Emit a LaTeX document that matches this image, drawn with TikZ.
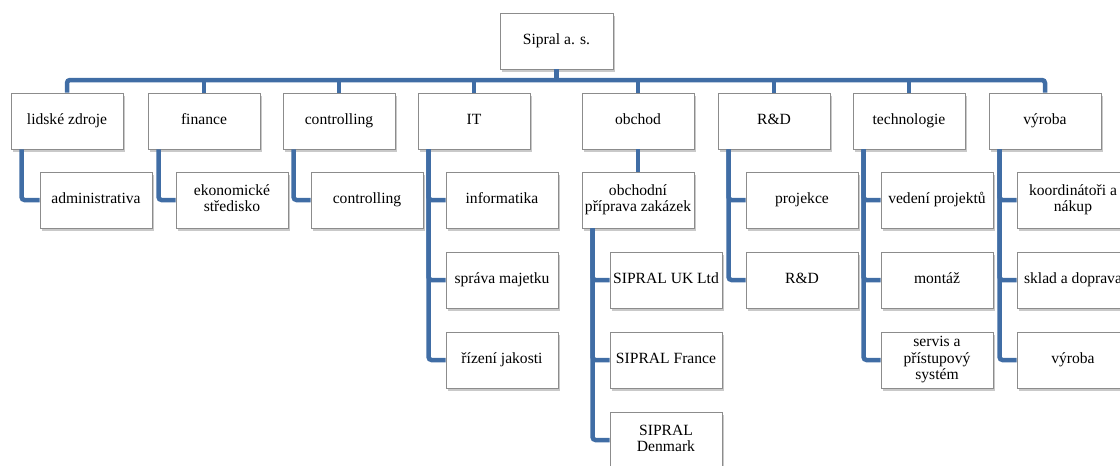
\documentclass[tikz,border=0pt]{standalone}
\usepackage{fontspec}
\setmainfont{Liberation Serif}
\usetikzlibrary{shadows}

\definecolor{orgblue}{RGB}{64,109,165}
\definecolor{boxgray}{RGB}{140,140,140}

\newcommand{\unitstrut}{\rule[-3.5pt]{0pt}{13pt}}

\tikzset{
	unit/.style={rectangle, draw=boxgray, line width=0.9pt, fill=white,
		minimum width=112pt, minimum height=56pt, inner sep=1pt,
		align=center, font=\fontsize{15.6}{16.5}\selectfont,
		execute at begin node={\unitstrut}, execute at end node={\unitstrut},
		drop shadow={shadow xshift=2pt, shadow yshift=-3pt, opacity=0.3, fill=black!70}},
	branch/.style={draw=orgblue, line width=4.5pt, rounded corners=3pt}
}

\begin{document}
\begin{tikzpicture}[x=1pt,y=-1pt]
			
			\useasboundingbox (0,0) rectangle (1120,466);
			
			\node[unit, minimum width=113pt] 
			(Sipral) at (556.5,41) {Sipral a. s.};
			
			\node[unit] (HR)   at (67,121)   {lidské zdroje};
			\node[unit] (Fin)  at (204,121)  {finance};
			\node[unit] (Ctrl) at (339,121)  {controlling};
			\node[unit] (IT)   at (474,121)  {IT};
			\node[unit] (Sale) at (638,121)  {obchod};
			\node[unit] (RD)   at (774,121)  {R\&D};
			\node[unit] (Tech) at (909,121)  {technologie};
			\node[unit] (Prod) at (1045,121) {výroba};
			
			\coordinate (Bus) at (556.5,80);
			
			\draw[branch] (HR.north) |- (Bus) -| (Prod.north);
			\draw[branch] (Sipral.south) -- (Sipral.south |- Bus);
			\draw[branch] (Fin.north) -- (Fin.north |- Bus);
			\draw[branch] (Ctrl.north) -- (Ctrl.north |- Bus);
			\draw[branch] (IT.north) -- (IT.north |- Bus);
			\draw[branch] (Sale.north) -- (Sale.north |- Bus);
			\draw[branch] (RD.north) -- (RD.north |- Bus);
			\draw[branch] (Tech.north) -- (Tech.north |- Bus);
			
			\node[unit] (HR-Admin) at (96,200) {administrativa};
			\draw[branch] ([xshift=11pt]HR.south west) |- (HR-Admin.west);
			
			\node[unit] (Fin-Econ) at (232,200) {ekonomické\\středisko};
			\draw[branch] ([xshift=11pt]Fin.south west) |- (Fin-Econ.west);
			
			\node[unit] (Ctrl-Ctrl) at (367,200) {controlling};
			\draw[branch] ([xshift=11pt]Ctrl.south west) |- (Ctrl-Ctrl.west);
			
			\node[unit] (IT-Inf)  at (502,200) {informatika};
			\node[unit] (IT-Prop) at (502,280) {správa majetku};
			\node[unit] (IT-Qual) at (502,360) {řízení jakosti};
			\draw[branch] ([xshift=11pt]IT.south west) |- (IT-Inf.west);
			\draw[branch] ([xshift=11pt]IT.south west) |- (IT-Prop.west);
			\draw[branch] ([xshift=11pt]IT.south west) |- (IT-Qual.west);
			
			\node[unit] (Sale-Prep) at (638,200) {obchodní\\příprava zakázek};
			\draw[branch] (Sale.south) -- (Sale-Prep.north);
			
			\node[unit] (Sale-UK) at (666,280) {SIPRAL UK Ltd};
			\node[unit] (Sale-FR) at (666,360) {SIPRAL France};
			\node[unit] (Sale-DK) at (666,440) {SIPRAL\\Denmark};
			\draw[branch] ([xshift=11pt]Sale-Prep.south west) |- (Sale-UK.west);
			\draw[branch] ([xshift=11pt]Sale-Prep.south west) |- (Sale-FR.west);
			\draw[branch] ([xshift=11pt]Sale-Prep.south west) |- (Sale-DK.west);
			
			\node[unit] (RD-Proj) at (802,200) {projekce};
			\node[unit] (RD-RD)   at (802,280) {R\&D};
			\draw[branch] ([xshift=11pt]RD.south west) |- (RD-Proj.west);
			\draw[branch] ([xshift=11pt]RD.south west) |- (RD-RD.west);
			
			\node[unit] (Tech-Lead) at (937,200) {vedení projektů};
			\node[unit] (Tech-Inst) at (937,280) {montáž};
			\node[unit] (Tech-Serv) at (937,360) {servis a\\přístupový\\systém};
			\draw[branch] ([xshift=11pt]Tech.south west) |- (Tech-Lead.west);
			\draw[branch] ([xshift=11pt]Tech.south west) |- (Tech-Inst.west);
			\draw[branch] ([xshift=11pt]Tech.south west) |- (Tech-Serv.west);
			
			\node[unit] (Prod-Buy)   at (1073,200) {koordinátoři a\\nákup};
			\node[unit] (Prod-Store) at (1073,280) {sklad a doprava};
			\node[unit] (Prod-Prod)  at (1073,360) {výroba};
			\draw[branch] ([xshift=11pt]Prod.south west) |- (Prod-Buy.west);
			\draw[branch] ([xshift=11pt]Prod.south west) |- (Prod-Store.west);
			\draw[branch] ([xshift=11pt]Prod.south west) |- (Prod-Prod.west);
			
		\end{tikzpicture}
\end{document}
